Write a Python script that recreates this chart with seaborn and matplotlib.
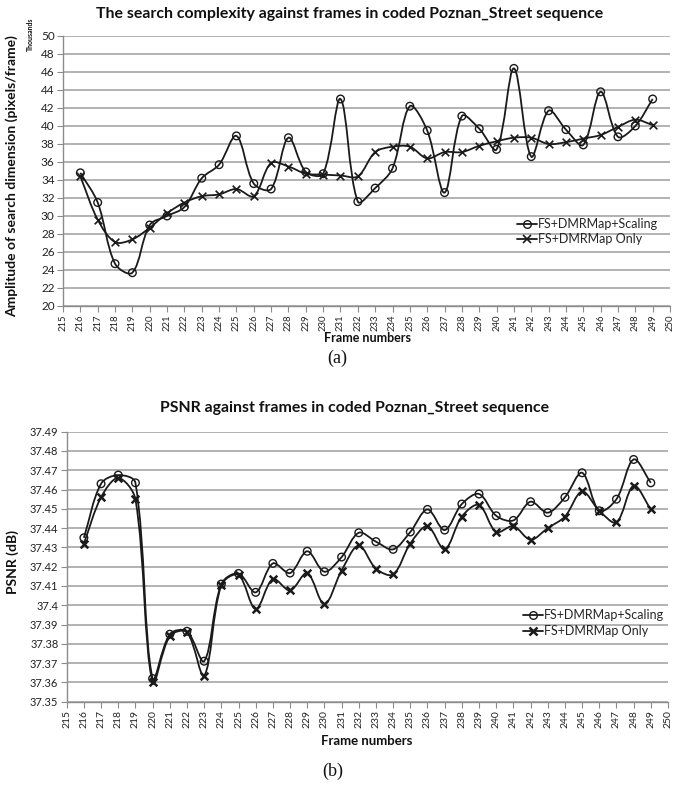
import numpy as np
import pandas as pd
import seaborn as sns
import matplotlib
matplotlib.use("Agg")
import matplotlib.pyplot as plt
from matplotlib.path import Path
from matplotlib.patches import PathPatch
from matplotlib.lines import Line2D

# ---- data -------------------------------------------------------------
frames = list(range(216, 250))

# search complexity (thousands of pixels/frame)
search_scaling = [34.8, 31.5, 24.7, 23.7, 29.0, 30.0, 31.0, 34.2, 35.7, 38.9,
                  33.6, 33.0, 38.7, 34.9, 34.7, 43.0, 31.6, 33.1, 35.3, 42.2,
                  39.5, 32.6, 41.1, 39.7, 37.4, 46.4, 36.6, 41.7, 39.6, 37.9,
                  43.8, 38.8, 40.0, 43.0]
search_only = [34.4, 29.6, 27.1, 27.4, 28.7, 30.3, 31.5, 32.2, 32.4, 33.0,
               32.2, 35.9, 35.5, 34.7, 34.6, 34.5, 34.4, 37.1, 37.7, 37.7,
               36.4, 37.1, 37.1, 37.8, 38.3, 38.7, 38.7, 38.0, 38.2, 38.6,
               39.0, 39.9, 40.7, 40.1]

# PSNR (dB)
psnr_scaling = [37.435, 37.463, 37.4675, 37.4635, 37.362, 37.385, 37.3865, 37.371,
                37.411, 37.4165, 37.4067, 37.4217, 37.4167, 37.428, 37.4174, 37.425,
                37.4376, 37.433, 37.429, 37.438, 37.4497, 37.439, 37.4525, 37.4577,
                37.4464, 37.444, 37.4537, 37.448, 37.456, 37.4687, 37.449, 37.455,
                37.4756, 37.4635]
psnr_only = [37.432, 37.456, 37.466, 37.455, 37.360, 37.384, 37.386, 37.3635,
             37.4105, 37.4157, 37.398, 37.4136, 37.4077, 37.4167, 37.4005, 37.418,
             37.431, 37.419, 37.416, 37.432, 37.441, 37.429, 37.446, 37.452,
             37.438, 37.441, 37.434, 37.440, 37.446, 37.459, 37.449, 37.443,
             37.462, 37.4497]

series_names = ["FS+DMRMap+Scaling", "FS+DMRMap Only"]
x_ticks = list(range(215, 251))

# ---- style ------------------------------------------------------------
sns.set_theme(style="white")
plt.rcParams["font.family"] = ["Lato", "DejaVu Sans"]

W, H = 674, 785
fig = plt.figure(figsize=(W / 100, H / 100), dpi=100)

INK = "#1a1a1a"
GRID = "#a6a6a6"
AXIS = "#8c8c8c"
TXT = "#111111"
SERIF = ["Liberation Serif", "DejaVu Serif"]


def px_axes(left, top, right, bottom):
    return fig.add_axes([left / W, 1 - bottom / H, (right - left) / W, (bottom - top) / H])


def smooth_curve(ax, xs, ys, lw):
    """Smoothed line through the points: cubic Bezier segments whose handle
    lengths follow the on-screen length of the neighbouring segments."""
    data = np.column_stack([xs, ys]).astype(float)
    pts = ax.transData.transform(data)
    n = len(pts)
    verts = [pts[0]]
    codes = [Path.MOVETO]

    def handles(i):
        prev_p = pts[max(i - 1, 0)]
        next_p = pts[min(i + 1, n - 1)]
        tang = next_p - prev_p
        d_in = np.linalg.norm(pts[i] - prev_p)
        d_out = np.linalg.norm(next_p - pts[i])
        tot = d_in + d_out
        if tot == 0:
            return pts[i], pts[i]
        c_in = pts[i] - tang * (d_in / tot) / 3.0
        c_out = pts[i] + tang * (d_out / tot) / 3.0
        return c_in, c_out

    hs = [handles(i) for i in range(n)]
    for i in range(n - 1):
        verts += [hs[i][1], hs[i + 1][0], pts[i + 1]]
        codes += [Path.CURVE4] * 3
    verts = ax.transData.inverted().transform(np.array(verts))
    ax.add_patch(PathPatch(Path(verts, codes), facecolor="none", edgecolor=INK,
                           lw=lw, zorder=3))


def style_axes(ax, ylim, yticks, ylabels, xfs, yfs):
    ax.set_xlim(215, 250)
    ax.set_ylim(*ylim)
    ax.set_xticks(x_ticks)
    ax.set_xticklabels([str(t) for t in x_ticks], rotation=90, fontsize=xfs, color="#222222")
    ax.set_yticks(yticks)
    ax.set_yticklabels(ylabels, fontsize=yfs, color="#222222")
    ax.grid(axis="y", color=GRID, lw=1.2)
    ax.set_axisbelow(True)
    for s in ("top", "right"):
        ax.spines[s].set_visible(False)
    for s in ("left", "bottom"):
        ax.spines[s].set_color(AXIS)
        ax.spines[s].set_linewidth(1.0)
    ax.tick_params(axis="both", which="major", length=4, width=0.8, color=AXIS,
                   direction="out", pad=2, bottom=True, left=True)


def draw_panel(ax, y_scaling, y_only, lw, mk_size, x_mew):
    df = pd.DataFrame({"frame": frames * 2,
                       "value": list(y_scaling) + list(y_only),
                       "series": [series_names[0]] * len(frames) + [series_names[1]] * len(frames)})
    smooth_curve(ax, frames, y_scaling, lw)
    smooth_curve(ax, frames, y_only, lw)
    sns.scatterplot(data=df[df.series == series_names[0]], x="frame", y="value", ax=ax,
                    marker="o", s=mk_size ** 2, facecolor="none", edgecolor=INK,
                    linewidth=1.0, zorder=4, legend=False)
    sns.scatterplot(data=df[df.series == series_names[1]], x="frame", y="value", ax=ax,
                    marker="x", s=mk_size ** 2, color=INK, linewidth=x_mew,
                    zorder=4, legend=False)
    ax.set_xlabel("")
    ax.set_ylabel("")


# ---- panel (a): search complexity -------------------------------------
ax1 = px_axes(63, 36, 670, 306)
yt1 = list(range(20, 51, 2))
style_axes(ax1, (20, 50), yt1, [str(v) for v in yt1], 6.8, 8.5)
draw_panel(ax1, search_scaling, search_only, lw=1.3, mk_size=5.5, x_mew=1.2)

h1 = [Line2D([], [], color=INK, lw=1.3, marker="o", mfc="none", mec=INK, ms=5.5),
      Line2D([], [], color=INK, lw=1.3, marker="x", mec=INK, ms=5.5, mew=1.2)]
ax1.legend(h1, series_names, loc="upper left", bbox_to_anchor=((512 - 63) / 607, (306 - 213) / 270),
           frameon=False, fontsize=9, handlelength=1.6, handletextpad=0.1,
           labelspacing=0.25, borderaxespad=0)

fig.text(350 / W, 1 - 14 / H, "The search complexity against frames in coded Poznan_Street sequence",
         ha="center", va="center", fontsize=11.4, fontweight="bold", color=TXT)
fig.text(12 / W, 1 - 176 / H, "Amplitude of search dimension (pixels/frame)", rotation=90,
         ha="center", va="center", fontsize=10, fontweight="bold", color=TXT)
fig.text(30 / W, 1 - 34 / H, "Thousands", rotation=90, ha="center", va="center",
         fontsize=5, fontweight="bold", color=TXT)
fig.text(367 / W, 1 - 338 / H, "Frame numbers", ha="center", va="center",
         fontsize=9, fontweight="bold", color=TXT)
fig.text(337 / W, 1 - 358 / H, "(a)", ha="center", va="center", fontsize=13,
         family=SERIF, color=TXT)

# ---- panel (b): PSNR ----------------------------------------------------
ax2 = px_axes(66.7, 431.7, 668, 701.7)
yt2 = [round(37.35 + 0.01 * i, 2) for i in range(15)]
style_axes(ax2, (37.35, 37.49), yt2, [f"{v:g}" for v in yt2], 7.5, 8)
draw_panel(ax2, psnr_scaling, psnr_only, lw=1.3, mk_size=5.5, x_mew=1.8)

h2 = [Line2D([], [], color=INK, lw=1.3, marker="o", mfc="none", mec=INK, ms=5.5),
      Line2D([], [], color=INK, lw=1.3, marker="x", mec=INK, ms=5.5, mew=1.8)]
ax2.legend(h2, series_names, loc="upper left",
           bbox_to_anchor=((518 - 66.7) / 601.3, (701.7 - 604) / 270),
           frameon=False, fontsize=9, handlelength=1.6, handletextpad=0.1,
           labelspacing=0.35, borderaxespad=0)

fig.text(355 / W, 1 - 408 / H, "PSNR against frames in coded Poznan_Street sequence",
         ha="center", va="center", fontsize=11.4, fontweight="bold", color=TXT)
fig.text(13 / W, 1 - 562 / H, "PSNR (dB)", rotation=90, ha="center", va="center",
         fontsize=10, fontweight="bold", color=TXT)
fig.text(367 / W, 1 - 741 / H, "Frame numbers", ha="center", va="center",
         fontsize=9.5, fontweight="bold", color=TXT)
fig.text(333 / W, 1 - 771 / H, "(b)", ha="center", va="center", fontsize=13,
         family=SERIF, color=TXT)

fig.savefig("out.png", dpi=100, facecolor="white")
